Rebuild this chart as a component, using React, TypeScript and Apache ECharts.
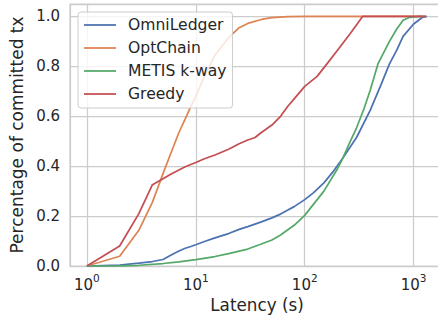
import React, { useEffect, useRef } from "react";
import * as echarts from "echarts";

const seriesNames = ["OmniLedger", "OptChain", "METIS k-way", "Greedy"];
const colors = ["#4C72B0", "#DD8452", "#55A868", "#C44E52"];

const omniLatency = [1, 2, 3, 4, 5, 6, 7, 8, 9, 10, 12, 15, 20, 25, 30, 40, 50, 60, 70, 80, 100, 120, 150, 180, 220, 300, 400, 500, 600, 700, 800, 1000, 1200, 1320];
const omniPct = [0, 0.004, 0.012, 0.018, 0.026, 0.045, 0.06, 0.071, 0.078, 0.085, 0.098, 0.113, 0.13, 0.147, 0.158, 0.177, 0.193, 0.208, 0.224, 0.238, 0.266, 0.293, 0.333, 0.375, 0.428, 0.516, 0.625, 0.725, 0.81, 0.865, 0.92, 0.97, 0.996, 1.0];

const optLatency = [1, 2, 3, 4, 5, 6, 7, 8, 9, 10, 12, 15, 20, 25, 30, 40, 50, 70, 100, 200, 500, 1000, 1300];
const optPct = [0, 0.039, 0.143, 0.256, 0.37, 0.46, 0.535, 0.59, 0.64, 0.68, 0.76, 0.845, 0.915, 0.955, 0.972, 0.988, 0.995, 0.999, 1.0, 1.0, 1.0, 1.0, 1.0];

const metisLatency = [1, 2, 3, 5, 7, 10, 15, 20, 30, 40, 50, 60, 80, 100, 150, 200, 220, 250, 300, 350, 400, 470, 600, 700, 800, 900, 1000, 1200];
const metisPct = [0, 0.001, 0.003, 0.01, 0.017, 0.026, 0.038, 0.05, 0.068, 0.088, 0.104, 0.124, 0.163, 0.203, 0.3, 0.39, 0.425, 0.48, 0.555, 0.63, 0.705, 0.81, 0.9, 0.95, 0.985, 0.995, 0.998, 1.0];

const greedyLatency = [1, 2, 3, 4, 5, 6, 7, 8, 10, 12, 15, 20, 25, 30, 35, 40, 50, 60, 70, 80, 100, 130, 160, 200, 260, 340, 500, 1000, 1300];
const greedyPct = [0, 0.08, 0.21, 0.326, 0.35, 0.37, 0.385, 0.398, 0.415, 0.43, 0.445, 0.468, 0.49, 0.505, 0.515, 0.535, 0.565, 0.6, 0.64, 0.67, 0.72, 0.76, 0.81, 0.865, 0.93, 1.0, 1.0, 1.0, 1.0];

const yTicks = [0, 0.2, 0.4, 0.6, 0.8, 1.0];

const FONT = "DejaVu Sans";
const TEXT = "#262626";
const GRID = "#cccccc";

export default function App() {
  const ref = useRef<HTMLDivElement>(null);
  useEffect(() => {
    document.body.style.margin = "0";
    const chart = echarts.init(ref.current!, null, { renderer: "svg" });
    const lat = [omniLatency, optLatency, metisLatency, greedyLatency];
    const pct = [omniPct, optPct, metisPct, greedyPct];
    chart.setOption({
      animation: false,
      backgroundColor: "#ffffff",
      textStyle: { fontFamily: FONT, color: TEXT },
      grid: {
        left: 70,
        top: 4,
        width: 374,
        height: 262,
        outerBoundsMode: "none",
        containLabel: false,
        show: true,
        borderColor: GRID,
        borderWidth: 1.25,
        backgroundColor: "transparent",
      },
      legend: {
        orient: "vertical",
        left: 78,
        top: 12,
        icon: "rect",
        itemWidth: 32,
        itemHeight: 1.75,
        itemGap: 3,
        padding: [3, 6, 4, 6],
        backgroundColor: "rgba(255,255,255,0.8)",
        borderColor: GRID,
        borderWidth: 1,
        borderRadius: 3,
        data: seriesNames,
        textStyle: {
          fontFamily: FONT,
          fontSize: 15.6,
          color: TEXT,
          lineHeight: 20,
          padding: [0, 0, 0, 7],
        },
      },
      xAxis: {
        type: "log",
        logBase: 10,
        min: 0.7,
        max: 1900,
        name: "Latency (s)",
        nameLocation: "middle",
        nameGap: 27,
        nameTextStyle: { fontFamily: FONT, fontSize: 16.8, color: TEXT },
        axisLine: { show: false },
        axisTick: { show: false },
        minorTick: { show: false },
        splitLine: { show: true, lineStyle: { color: GRID, width: 1.25 } },
        axisLabel: {
          margin: 6,
          color: TEXT,
          fontFamily: FONT,
          formatter: (v: number) => {
            const e = Math.log10(v);
            if (Math.abs(e - Math.round(e)) > 1e-6) return "";
            return "{b|10}{s|" + Math.round(e) + "}";
          },
          rich: {
            b: { fontSize: 15, fontFamily: FONT, color: TEXT, lineHeight: 20, verticalAlign: "bottom" },
            s: { fontSize: 10.5, fontFamily: FONT, color: TEXT, lineHeight: 12, verticalAlign: "top" },
          },
        },
      },
      yAxis: {
        type: "value",
        min: 0,
        max: 1.05,
        interval: 0.2,
        name: "Percentage of committed tx",
        nameLocation: "middle",
        nameGap: 39,
        nameTextStyle: { fontFamily: FONT, fontSize: 17, color: TEXT },
        axisLine: { show: false },
        axisTick: { show: false },
        splitLine: { show: true, lineStyle: { color: GRID, width: 1.25 } },
        axisLabel: {
          margin: 10,
          fontSize: 15,
          color: TEXT,
          fontFamily: FONT,
          formatter: (v: number) => (yTicks.some((t) => Math.abs(t - v) < 1e-6) ? v.toFixed(1) : ""),
        },
      },
      series: seriesNames.map((name, i) => ({
        name,
        type: "line",
        data: lat[i].map((x, j) => [x, pct[i][j]]),
        showSymbol: false,
        symbol: "none",
        color: colors[i],
        lineStyle: { color: colors[i], width: 1.75 },
        z: 2 + i,
      })),
    });
    return () => chart.dispose();
  }, []);
  return <div ref={ref} style={{ position: "fixed", left: 0, top: 0, width: 438, height: 318 }} />;
}
